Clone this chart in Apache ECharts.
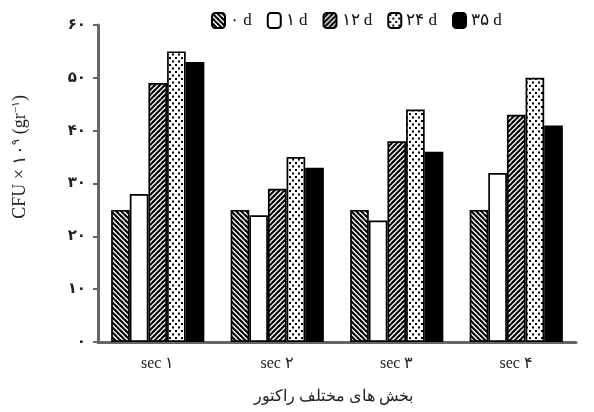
<!DOCTYPE html>
<html>
<head>
<meta charset="utf-8">
<script src="https://cdn.jsdelivr.net/npm/echarts@6/dist/echarts.min.js"></script>
<style>
  html, body { margin: 0; padding: 0; background: #fff; }
  #chart { width: 594px; height: 412px; }
</style>
</head>
<body>
<div id="chart"></div>
<script>
// Reactor sections and sampling days
const categories = ['sec ۱', 'sec ۲', 'sec ۳', 'sec ۴'];
const seriesNames = ['۰ d', '۱ d', '۱۲ d', '۲۴ d', '۳۵ d'];

// CFU counts per section for each sampling day
const day0 = [25, 25, 25, 25];
const day1 = [28, 24, 23, 32];
const day12 = [49, 29, 38, 43];
const day24 = [55, 35, 44, 50];
const day35 = [53, 33, 36, 41];

// Y tick labels in Persian digits (0..60 step 10)
const yTickLabels = ['۰', '۱۰', '۲۰', '۳۰', '۴۰', '۵۰', '۶۰'];

const serif = '"Liberation Serif", "DejaVu Serif", serif';

// ---- fill patterns ----
function makeCanvas(w, h) {
  const c = document.createElement('canvas');
  c.width = w; c.height = h;
  const ctx = c.getContext('2d');
  ctx.fillStyle = '#fff';
  ctx.fillRect(0, 0, w, h);
  return [c, ctx];
}

function stripePattern(backslash) {
  const n = 5;
  const [c, ctx] = makeCanvas(n, n);
  ctx.strokeStyle = '#000';
  ctx.lineWidth = 2.2;
  for (let k = -1; k <= 1; k++) {
    ctx.beginPath();
    if (backslash) {
      ctx.moveTo(k * n - 1, -1);
      ctx.lineTo(k * n + n + 1, n + 1);
    } else {
      ctx.moveTo(k * n - 1, n + 1);
      ctx.lineTo(k * n + n + 1, -1);
    }
    ctx.stroke();
  }
  return { image: c, repeat: 'repeat' };
}

function dotPattern() {
  const [c, ctx] = makeCanvas(6, 7);
  ctx.fillStyle = '#000';
  ctx.fillRect(1, 1, 2, 2);
  ctx.fillRect(4, 4.5, 2, 2);
  return { image: c, repeat: 'repeat' };
}

const fills = [
  stripePattern(true),
  '#ffffff',
  stripePattern(false),
  dotPattern(),
  '#000000'
];
const values = [day0, day1, day12, day24, day35];

const chart = echarts.init(document.getElementById('chart'), null, { renderer: 'canvas' });

const series = seriesNames.map((name, i) => ({
  name: name,
  type: 'bar',
  data: values[i],
  barGap: '0%',
  barCategoryGap: '22%',
  itemStyle: {
    color: fills[i],
    borderColor: '#000',
    borderWidth: 1.7
  },
  emphasis: { disabled: true }
}));

chart.setOption({
  animation: false,
  backgroundColor: '#fff',
  grid: { left: 98, right: 18, top: 25, bottom: 70, containLabel: false },
  legend: {
    data: seriesNames,
    top: 7,
    left: 206,
    itemWidth: 13,
    itemHeight: 15,
    itemGap: 15,
    icon: 'roundRect',
    textStyle: { fontFamily: serif, fontSize: 17, color: '#111' }
  },
  xAxis: {
    type: 'category',
    data: categories,
    axisLine: { lineStyle: { color: '#666', width: 3 } },
    axisTick: { show: false },
    axisLabel: { fontFamily: serif, fontSize: 16, color: '#222', margin: 14 }
  },
  yAxis: {
    type: 'value',
    min: 0,
    max: 60,
    interval: 10,
    axisLine: { show: true, lineStyle: { color: '#666', width: 3 } },
    axisTick: { show: true, length: 5, lineStyle: { color: '#666', width: 2 } },
    splitLine: { show: false },
    axisLabel: {
      fontFamily: '"DejaVu Sans", sans-serif',
      fontSize: 15,
      fontWeight: 'bold',
      color: '#222',
      margin: 12,
      formatter: v => yTickLabels[Math.round(v / 10)]
    }
  },
  graphic: [
    {
      type: 'text',
      left: 11,
      top: 95,
      rotation: Math.PI / 2,
      style: {
        text: '{b|CFU × ۱۰}{s|۹}{b| (gr}{s|−۱}{b|)}',
        rich: {
          b: { fontFamily: serif, fontSize: 18, fill: '#222' },
          s: { fontFamily: serif, fontSize: 11, fill: '#222', verticalAlign: 'top', padding: [0, 0, 7, 0] }
        }
      }
    },
    {
      type: 'text',
      x: 333,
      y: 397,
      style: {
        text: 'بخش های مختلف راکتور',
        fontFamily: serif,
        fontSize: 16,
        fill: '#222',
        align: 'center',
        verticalAlign: 'middle'
      }
    }
  ],
  series: series
});
</script>
</body>
</html>
